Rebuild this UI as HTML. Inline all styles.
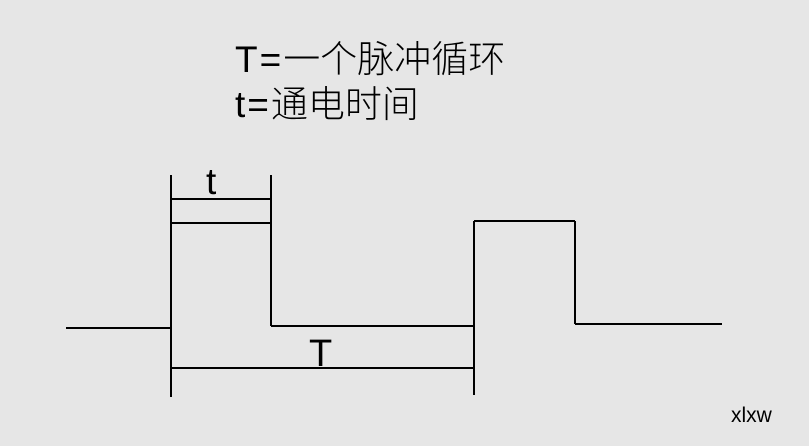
<!DOCTYPE html>
<html><head><meta charset="utf-8"><style>
html,body{margin:0;padding:0;background:#e6e6e6;}
body{width:809px;height:446px;position:relative;overflow:hidden;}
.t{position:absolute;font-family:"Liberation Sans","Noto Sans CJK SC",sans-serif;color:#000;white-space:nowrap;line-height:1;}
</style></head><body>
<svg width="809" height="446" style="position:absolute;left:0;top:0" shape-rendering="crispEdges">
<g stroke="#000" stroke-width="1.6" fill="none">
<line x1="66" y1="328" x2="171" y2="328"/>
<line x1="171" y1="175" x2="171" y2="397"/>
<line x1="271" y1="175" x2="271" y2="326"/>
<line x1="171" y1="199" x2="271" y2="199"/>
<line x1="171" y1="223" x2="271" y2="223"/>
<line x1="271" y1="326" x2="474" y2="326"/>
<line x1="474" y1="221" x2="474" y2="395"/>
<line x1="474" y1="221" x2="575" y2="221"/>
<line x1="575" y1="221" x2="575" y2="324"/>
<line x1="575" y1="324" x2="722" y2="324"/>
<line x1="171" y1="368" x2="474" y2="368"/>
</g>
</svg>
<div class="t" style="left:235px;top:41px;font-size:37px;"><span style="letter-spacing:2px">T=</span><span style="font-weight:300">一个脉冲循环</span></div>
<div class="t" style="left:235px;top:86px;font-size:37px;"><span style="letter-spacing:2px">t=</span><span style="font-weight:300">通电时间</span></div>
<div class="t" style="left:206px;top:163px;font-size:37px;">t</div>
<div class="t" style="left:309px;top:335px;font-size:38px;">T</div>
<div class="t" style="left:731px;top:405px;font-size:21px;">xlxw</div>
</body></html>
